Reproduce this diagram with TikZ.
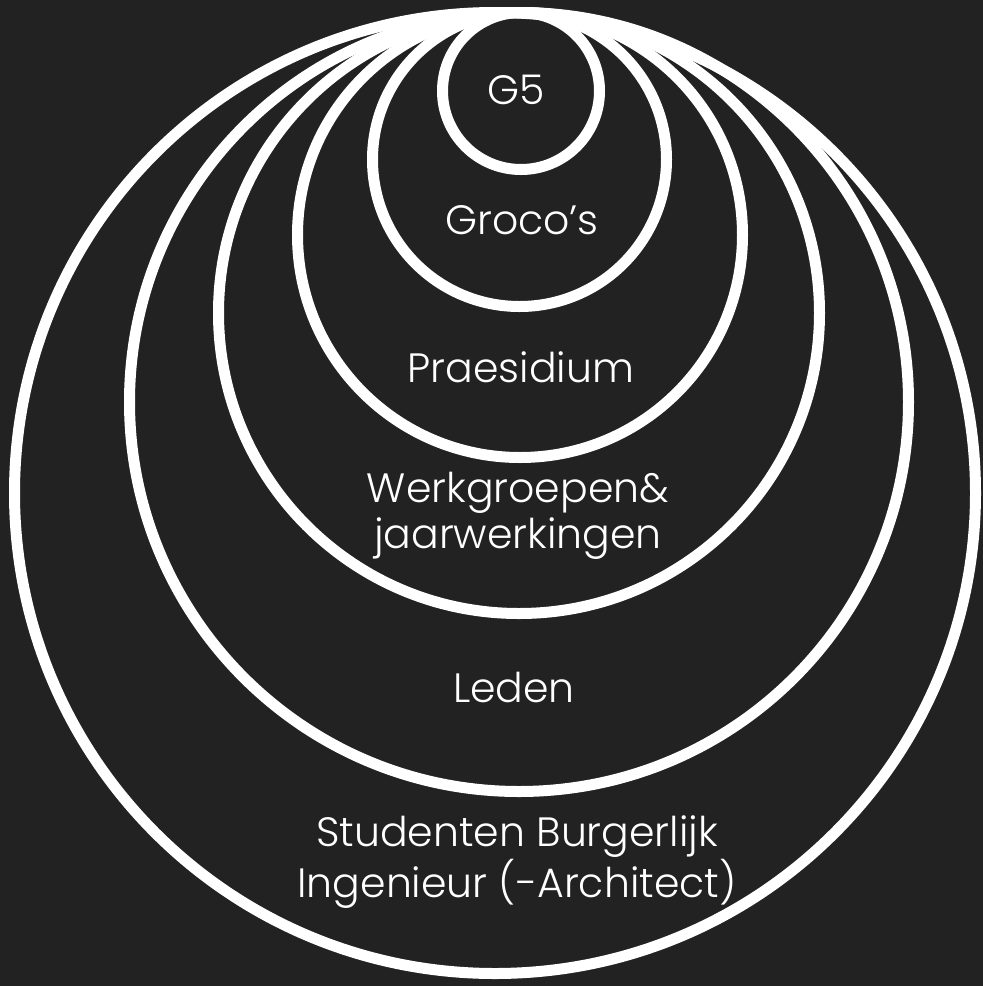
\documentclass[tikz,border=0pt]{standalone}
\usepackage{fontspec}
\setmainfont{Poppins}[UprightFont=* Light]
\definecolor{achtergrond}{RGB}{34,34,34}
\begin{document}
\begin{tikzpicture}[x=1pt,y=-1pt,
    ring/.style={white,line width=11pt},
    laag/.style={white,align=center,inner sep=0pt,font=\fontsize{41}{46}\selectfont}]
  % achtergrond, vast formaat zoals het origineel
  \fill[achtergrond] (0,0) rectangle (983,986);
  \useasboundingbox (0,0) rectangle (983,986);
  % cirkels: middelpunt x/y en straal, allemaal raken ze bovenaan
  \foreach \cx/\cy/\r in {521/91/78.5, 519.5/159.5/147, 520/235/222.5,
                          519/313/300.5, 519/402/389.5, 495/493/480.5}
    \draw[ring] (\cx,\cy) circle(\r);
  % namen van de lagen
  \node[laag] (g5) at (516,90) {G5};
  \node[laag] (groco) at (522,220) {Groco's};
  \node[laag] (praesidium) at (521,367) {Praesidium};
  \node[laag] (werkgroepen) at (518,516) {Werkgroepen\&\\jaarwerkingen};
  \node[laag] (leden) at (514,687) {Leden};
  \node[laag] (studenten) at (517,862) {Studenten Burgerlijk\\Ingenieur (-Architect)};
\end{tikzpicture}
\end{document}
